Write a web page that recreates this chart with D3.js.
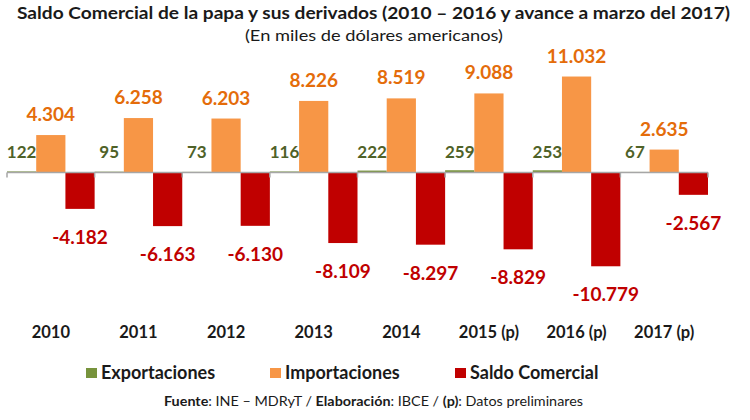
<!DOCTYPE html>
<html>
<head>
<meta charset="utf-8">
<script src="https://cdn.jsdelivr.net/npm/d3@7"></script>
<style>
  body { margin: 0; background: #fff; }
  svg text { font-family: Lato, "Open Sans", sans-serif; }
</style>
</head>
<body>
<div id="chart"></div>
<script>
var categories = ["2010", "2011", "2012", "2013", "2014", "2015 (p)", "2016 (p)", "2017 (p)"];
var exportaciones = [122, 95, 73, 116, 222, 259, 253, 67];
var importaciones = [4304, 6258, 6203, 8226, 8519, 9088, 11032, 2635];
var saldo = [-4182, -6163, -6130, -8109, -8297, -8829, -10779, -2567];
var seriesNames = ["Exportaciones", "Importaciones", "Saldo Comercial"];

var width = 750,
    height = 420;

var barColors = ["#77933c", "#f79646", "#c00000"];
var labelColors = ["#4f6228", "#e46c0a", "#c00000"];

var svg = d3.select("#chart")
    .append("svg")
    .attr("width", width)
    .attr("height", height);

var fmt = d3.formatLocale({ decimal: ",", thousands: ".", grouping: [3], currency: ["", ""], minus: "-" }).format(",d");

var x = d3.scaleBand()
    .domain(categories)
    .range([7, 708])
    .padding(0);

var sub = d3.scaleBand()
    .domain([0, 1, 2])
    .range([0, x.bandwidth()]);

var y = d3.scaleLinear()
    .domain([-12500, 12500])
    .range([281.25, 63.75]);

var y0 = y(0);

// title
svg.append("text")
    .attr("x", 17).attr("y", 19)
    .attr("textLength", 713).attr("lengthAdjust", "spacingAndGlyphs")
    .style("font-size", "17px").style("font-weight", "bold").style("fill", "#1a1a1a")
    .text("Saldo Comercial de la papa y sus derivados (2010 – 2016 y avance a marzo del 2017)");

svg.append("text")
    .attr("x", 374).attr("y", 41)
    .attr("text-anchor", "middle")
    .attr("textLength", 258).attr("lengthAdjust", "spacingAndGlyphs")
    .style("font-size", "16px").style("fill", "#1a1a1a")
    .text("(En miles de dólares americanos)");

var rows = categories.map(function (c, i) {
    return { cat: c, values: [exportaciones[i], importaciones[i], saldo[i]] };
});

var groups = svg.append("g")
    .selectAll("g")
    .data(rows)
    .join("g")
    .attr("transform", function (d) { return "translate(" + x(d.cat) + ",0)"; });

groups.selectAll("rect")
    .data(function (d) { return d.values; })
    .join("rect")
    .attr("x", function (d, i) { return sub(i); })
    .attr("width", sub.bandwidth())
    .attr("y", function (d) { return d >= 0 ? y(d) : y0; })
    .attr("height", function (d) { return Math.abs(y(d) - y0); })
    .attr("fill", function (d, i) { return barColors[i]; });

// axis line with tick marks at category boundaries
var axis = svg.append("g");
axis.append("line")
    .attr("x1", x.range()[0]).attr("x2", x.range()[1])
    .attr("y1", y0).attr("y2", y0)
    .attr("stroke", "#a6a6a6").attr("stroke-width", 1.5);
axis.selectAll("line.tick")
    .data(categories.concat(["end"]))
    .join("line")
    .attr("class", "tick")
    .attr("x1", function (d, i) { return x.range()[0] + i * x.step(); })
    .attr("x2", function (d, i) { return x.range()[0] + i * x.step(); })
    .attr("y1", y0).attr("y2", y0 + 5)
    .attr("stroke", "#a6a6a6").attr("stroke-width", 1.5);

// value labels
groups.selectAll("text.val")
    .data(function (d) { return d.values; })
    .join("text")
    .attr("class", "val")
    .attr("x", function (d, i) { return sub(i) + sub.bandwidth() / 2; })
    .attr("y", function (d, i) {
        if (i === 0) return y0 - 15;
        if (i === 1) return y(d) - 14;
        return y(d) + 35;
    })
    .attr("text-anchor", "middle")
    .style("font-size", function (d, i) { return i === 0 ? "17px" : "19px"; })
    .style("font-weight", "bold")
    .style("fill", function (d, i) { return labelColors[i]; })
    .text(function (d) { return fmt(d); });

// category labels
svg.append("g")
    .selectAll("text")
    .data(categories)
    .join("text")
    .attr("x", function (d) { return x(d) + x.bandwidth() / 2; })
    .attr("y", 338)
    .attr("text-anchor", "middle")
    .style("font-size", "16.5px").style("font-weight", "bold").style("fill", "#1a1a1a")
    .text(function (d) { return d; });

// legend
var legendX = [86, 270, 455];
var legend = svg.append("g")
    .selectAll("g")
    .data(seriesNames)
    .join("g")
    .attr("transform", function (d, i) { return "translate(" + legendX[i] + ",368)"; });
legend.append("rect")
    .attr("width", 11).attr("height", 10)
    .attr("fill", function (d, i) { return barColors[i]; });
legend.append("text")
    .attr("x", 15).attr("y", 11)
    .style("font-size", "18px").style("font-weight", "bold").style("fill", "#1a1a1a")
    .text(function (d) { return d; });

// source
var src = svg.append("text")
    .attr("x", 164).attr("y", 406)
    .attr("textLength", 419).attr("lengthAdjust", "spacingAndGlyphs")
    .style("font-size", "14px").style("fill", "#1a1a1a");
src.append("tspan").style("font-weight", "bold").text("Fuente");
src.append("tspan").text(":  INE – MDRyT / ");
src.append("tspan").style("font-weight", "bold").text("Elaboración");
src.append("tspan").text(": IBCE / ");
src.append("tspan").style("font-weight", "bold").text("(p)");
src.append("tspan").text(": Datos preliminares");
</script>
</body>
</html>
